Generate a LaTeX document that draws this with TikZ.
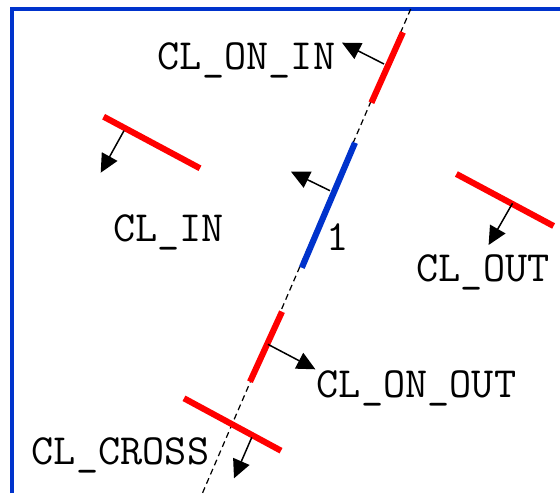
\documentclass[tikz,border=0pt]{standalone}
\usetikzlibrary{arrows.meta}
\definecolor{clblue}{RGB}{0,51,204}
\definecolor{clred}{RGB}{255,0,0}

\begin{document}
\begin{tikzpicture}[x=0.02cm, y=-0.02cm, >={Triangle[length=10.5pt,width=10pt]},
  edge/.style={clred, line width=3.5pt},
  normal/.style={->, line width=0.85pt},
  lbl/.style={font=\ttfamily\fontsize{24.5}{28}\selectfont, anchor=base, inner sep=0pt}]
  \useasboundingbox (0,0) rectangle (560,493);
  % window frame
  \coordinate (fbl) at (12,493);
  \coordinate (ftl) at (12,9);
  \coordinate (ftr) at (560,9);
  \draw[clblue, line width=2pt] (fbl) -- (ftl) -- (ftr);
  % clipping line
  \coordinate (ltop) at (410.7,9);
  \coordinate (lbot) at (202.5,493);
  \draw[line width=0.7pt, dash pattern=on 3.4pt off 2.3pt] (ltop) -- (lbot);
  % edge 1 (blue)
  \coordinate (b1) at (355,142.7);
  \coordinate (b2) at (301.8,267.7);
  \draw[clblue, line width=3.5pt] (b1) -- (b2);
  \coordinate (bn0) at (330,190.7);
  \coordinate (bn1) at (291,171.7);
  \draw[normal] (bn0) -- (bn1);
  \node[lbl] (one) at (337.5,250) {1};
  % CL_ON_IN
  \coordinate (oi1) at (402.9,32.3);
  \coordinate (oi2) at (371.4,102.7);
  \draw[edge] (oi1) -- (oi2);
  \coordinate (oin0) at (384,64);
  \coordinate (oin1) at (342,42.7);
  \draw[normal] (oin0) -- (oin1);
  \node[lbl] (onin) at (246.5,70) {CL\_ON\_IN};
  % CL_ON_OUT
  \coordinate (oo1) at (282,311.7);
  \coordinate (oo2) at (250,381.7);
  \draw[edge] (oo1) -- (oo2);
  \coordinate (oon0) at (267.9,344.3);
  \coordinate (oon1) at (315.4,369.3);
  \draw[normal] (oon0) -- (oon1);
  \node[lbl] (onout) at (416.5,397) {CL\_ON\_OUT};
  % CL_IN
  \coordinate (in1) at (103.6,116.7);
  \coordinate (in2) at (200,168.3);
  \draw[edge] (in1) -- (in2);
  \coordinate (inn0) at (124,130.7);
  \coordinate (inn1) at (100.7,172.7);
  \draw[normal] (inn0) -- (inn1);
  \node[lbl] (clin) at (168.5,241) {CL\_IN};
  % CL_OUT
  \coordinate (out1) at (456.4,174);
  \coordinate (out2) at (553.6,226);
  \draw[edge] (out1) -- (out2);
  \coordinate (outn0) at (512.5,203.3);
  \coordinate (outn1) at (488.6,245);
  \draw[normal] (outn0) -- (outn1);
  \node[lbl] (clout) at (483,281) {CL\_OUT};
  % CL_CROSS
  \coordinate (cr1) at (184,398.3);
  \coordinate (cr2) at (281,450.7);
  \draw[edge] (cr1) -- (cr2);
  \coordinate (crn0) at (251.8,437.3);
  \coordinate (crn1) at (234,478.3);
  \draw[normal] (crn0) -- (crn1);
  \node[lbl] (clcross) at (120.5,464) {CL\_CROSS};
\end{tikzpicture}
\end{document}
